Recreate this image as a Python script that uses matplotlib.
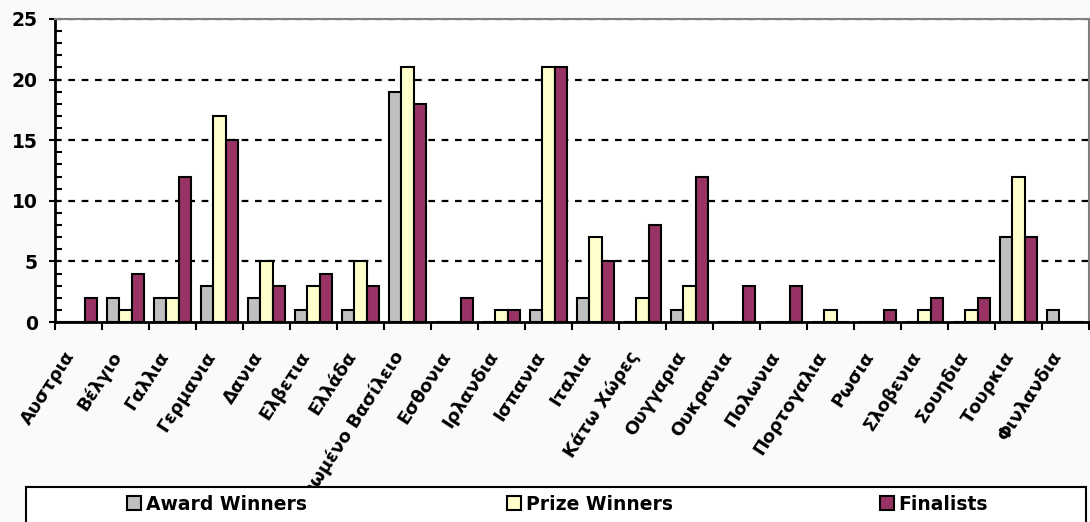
import numpy as np
import matplotlib
matplotlib.use("Agg")
import matplotlib.pyplot as plt
from matplotlib.patches import Rectangle, Patch
from matplotlib.ticker import MultipleLocator

countries = ["Αυστρια", "Βέλγιο", "Γαλλια", "Γερμανια", "Δανια", "Ελβετια",
             "Ελλάδα", "Ηνωμένο Βασίλειο", "Εσθονια", "Ιρλανδια", "Ισπανια",
             "Ιταλια", "Κάτω Χώρες", "Ουγγαρια", "Ουκρανια", "Πολωνια",
             "Πορτογαλια", "Ρωσια", "Σλοβενια", "Σουηδια", "Τουρκια", "Φινλανδια"]
award_winners = [0, 2, 2, 3, 2, 1, 1, 19, 0, 0, 1, 2, 0, 1, 0, 0, 0, 0, 0, 0, 7, 1]
prize_winners = [0, 1, 2, 17, 5, 3, 5, 21, 0, 1, 21, 7, 2, 3, 0, 0, 1, 0, 1, 1, 12, 0]
finalists = [2, 4, 12, 15, 3, 4, 3, 18, 2, 1, 21, 5, 8, 12, 3, 3, 0, 1, 2, 2, 7, 0]
series_names = ["Award Winners", "Prize Winners", "Finalists"]
colors = ["#C0C0C0", "#FFFFCC", "#993366"]

plt.rcParams['font.family'] = ['DejaVu Sans']
plt.rcParams['font.weight'] = 'bold'

fig = plt.figure(figsize=(10.9, 5.22), dpi=100, facecolor="#fafafa")
ax = fig.add_axes([55/1090, 1 - 322/522, 1034/1090, 303/522])
ax.set_facecolor("white")

x = np.arange(len(countries))
w = 0.26
for i, (vals, c) in enumerate(zip([award_winners, prize_winners, finalists], colors)):
    ax.bar(x + (i - 1) * w, vals, width=w, color=c, edgecolor="black",
           linewidth=1.5, zorder=3)

ax.set_xlim(-0.5, len(countries) - 0.5)
ax.set_ylim(0, 25)

# dashed gridlines
for yv in range(5, 26, 5):
    ax.axhline(yv, color="black", lw=1.6, ls=(0, (3, 3)), zorder=1)

ax.yaxis.set_major_locator(MultipleLocator(5))
ax.yaxis.set_minor_locator(MultipleLocator(1))
ax.tick_params(axis="y", which="major", direction="inout", length=9, width=1.5,
               labelsize=13.5, pad=8)
ax.tick_params(axis="y", which="minor", direction="in", length=5, width=1.5)

ax.set_xticks(x)
ax.set_xticklabels(countries, rotation=57, ha="right", va="bottom",
                   rotation_mode="anchor", fontsize=13, fontweight="bold")
ax.set_xticks(np.arange(-0.5, len(countries), 1), minor=True)
ax.tick_params(axis="x", which="major", length=0, pad=26)
ax.tick_params(axis="x", which="minor", direction="out", length=6, width=1.5)

for s in ["left", "bottom"]:
    ax.spines[s].set_linewidth(2)
    ax.spines[s].set_color("black")
for s in ["top", "right"]:
    ax.spines[s].set_linewidth(1.5)
    ax.spines[s].set_color("#808080")

# legend box
box = Rectangle((26/1090, -0.1), 1060/1090, 0.1 + 1 - 487/522,
                transform=fig.transFigure, facecolor="white", edgecolor="black",
                linewidth=1.5, zorder=3)
fig.add_artist(box)

# one legend entry per series, placed like the original
leg_x = [127, 507, 880]
for name, c, lx in zip(series_names, colors, leg_x):
    h = Patch(facecolor=c, edgecolor="black", linewidth=1.5)
    leg = fig.legend([h], [name], loc="center left",
                     bbox_to_anchor=(lx/1090, 1 - 504/522), frameon=False,
                     handlelength=0.75, handleheight=0.75, handletextpad=0.25,
                     borderpad=0, borderaxespad=0,
                     prop={"weight": "bold", "size": 13.5})
    leg.set_zorder(5)

fig.savefig("out.png", dpi=100, facecolor=fig.get_facecolor())
